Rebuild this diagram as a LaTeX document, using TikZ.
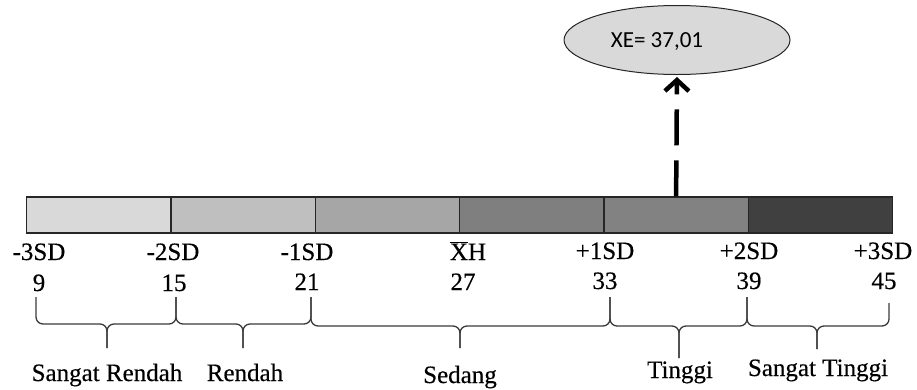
\documentclass[tikz,border=0pt]{standalone}
\usepackage{fontspec}
\setmainfont{Liberation Serif}[FakeBold=0.4]
\newfontfamily\calfont{Carlito}
\usetikzlibrary{arrows.meta,shapes.geometric}

\definecolor{gA}{HTML}{D9D9D9}
\definecolor{gB}{HTML}{BFBFBF}
\definecolor{gC}{HTML}{A6A6A6}
\definecolor{gD}{HTML}{7F7F7F}
\definecolor{gE}{HTML}{828282}
\definecolor{gF}{HTML}{404040}
\definecolor{barline}{HTML}{262626}
\definecolor{braceline}{HTML}{3A3A3A}

\tikzset{
  seg/.style={draw=barline, line width=1.2pt, minimum height=36pt,
    minimum width=144.33pt, inner sep=0pt, anchor=west},
  lab/.style={font=\fontsize{25}{28}\selectfont, inner sep=0pt, anchor=base},
  brace/.style={draw=braceline, line width=1.3pt, rounded corners=7pt},
  pointer/.style={line width=4.5pt, dash pattern=on 36pt off 15pt,
    -{Straight Barb[length=11pt,width=24pt]}}
}

\begin{document}
\begin{tikzpicture}[x=1pt,y=-1pt]
\useasboundingbox (0,0) rectangle (917,389);

% the scale bar
\node[seg, fill=gA] (s1) at (26,215) {};
\node[seg, fill=gB] (s2) at (170.33,215) {};
\node[seg, fill=gC] (s3) at (314.66,215) {};
\node[seg, fill=gD] (s4) at (459,215) {};
\node[seg, fill=gE] (s5) at (603.33,215) {};
\node[seg, fill=gF] (s6) at (747.66,215) {};

% SD marks
\node[lab] (m1) at (39,260) {-3SD};
\node[lab] (m2) at (173,260) {-2SD};
\node[lab] (m3) at (307,260) {-1SD};
\node[lab] (m4) at (468,260) {$\overline{\hbox{X}}$H};
\node[lab] (m5) at (605,259) {+1SD};
\node[lab] (m6) at (749,259) {+2SD};
\node[lab] (m7) at (883,259) {+3SD};

% scores
\node[lab] (n1) at (39,291) {9};
\node[lab] (n2) at (174,291) {15};
\node[lab] (n3) at (307,290) {21};
\node[lab] (n4) at (463,290) {27};
\node[lab] (n5) at (605,289) {33};
\node[lab] (n6) at (749,289) {39};
\node[lab] (n7) at (884,289) {45};

% braces
\draw[brace] (36,297) -- (36,324) -- (107,324) -- (107,348);
\draw[brace] (107,348) -- (107,324) -- (176,324) -- (176,297);
\draw[brace] (176,297) -- (176,324) -- (243,324) -- (243,348);
\draw[brace] (243,348) -- (243,324) -- (311,324) -- (311,297);
\draw[brace] (311,297) -- (311,326) -- (460,326) -- (460,348);
\draw[brace] (460,348) -- (460,326) -- (610,326) -- (610,297);
\draw[brace] (610,297) -- (610,326) -- (679,326) -- (679,358);
\draw[brace] (679,358) -- (679,326) -- (747,326) -- (747,297);
\draw[brace] (747,297) -- (747,326) -- (817,326) -- (817,349);
\draw[brace] (817,349) -- (817,326) -- (889,326) -- (889,303);

% categories
\node[lab] (c1) at (107,381) {Sangat Rendah};
\node[lab] (c2) at (245,381) {Rendah};
\node[lab] (c3) at (460,383) {Sedang};
\node[lab] (c4) at (680,378) {Tinggi};
\node[lab] (c5) at (818,376) {Sangat Tinggi};

% empirical mean
\node[ellipse, draw=barline, fill=gA, line width=1pt,
  minimum width=226pt, minimum height=69pt, inner sep=0pt] (ell) at (677,40) {};
\node[font=\calfont\fontsize{23}{26}\selectfont, inner sep=0pt, anchor=base] (xe) at (657,47) {XE= 37,01};

\draw[pointer] (s5.north) -- ([yshift=-2pt]ell.south);
\end{tikzpicture}
\end{document}
